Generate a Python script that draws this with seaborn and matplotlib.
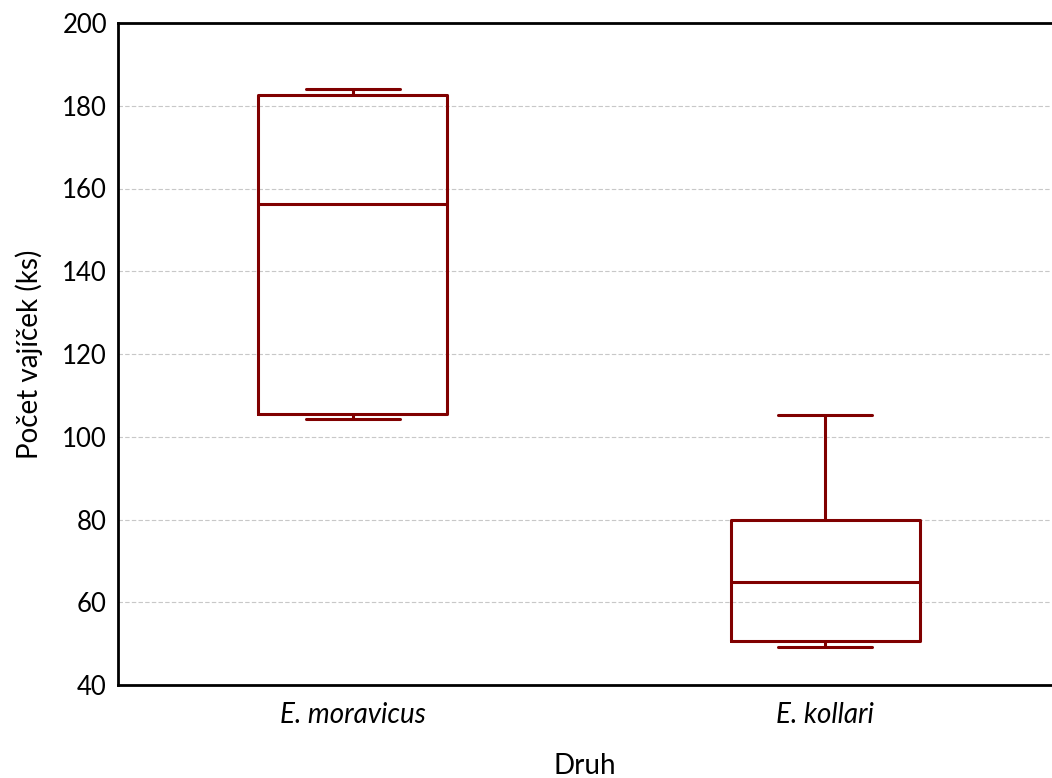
import numpy as np
import pandas as pd
import matplotlib
matplotlib.use("Agg")
import matplotlib.pyplot as plt
import seaborn as sns

species = ["E. moravicus", "E. kollari"]
moravicus_vals = [104.3, 105.5, 156.3, 182.6, 184.0]
kollari_vals = [49.2, 50.6, 64.9, 79.9, 105.3]
yticks = [40, 60, 80, 100, 120, 140, 160, 180, 200]

df = pd.DataFrame({
    "Druh": [species[0]] * len(moravicus_vals) + [species[1]] * len(kollari_vals),
    "val": moravicus_vals + kollari_vals,
})

sns.set_style("white")
plt.rcParams["font.family"] = ["Lato", "DejaVu Sans"]
plt.rcParams["text.color"] = "black"
plt.rcParams["axes.labelcolor"] = "black"
plt.rcParams["xtick.color"] = "black"
plt.rcParams["ytick.color"] = "black"

fig = plt.figure(figsize=(10.52, 7.78), dpi=100)
ax = fig.add_axes([118 / 1052, 93 / 778, (1051 - 118) / 1052, (685 - 23) / 778])

color = "#800000"
sns.boxplot(data=df, x="Druh", y="val", order=species, whis=np.inf, width=0.4,
            fill=False, color=color, linewidth=2.2, ax=ax)

ax.set_ylim(40, 200)
ax.set_xlim(-0.497, 1.478)
ax.set_yticks(yticks)
ax.yaxis.grid(True, color="#c8c8c8", linestyle=(0, (4, 2)), linewidth=0.8)
ax.set_axisbelow(True)

for s in ax.spines.values():
    s.set_color("black")
    s.set_linewidth(2)
    s.set_visible(True)
ax.spines["right"].set_visible(False)

ax.tick_params(axis="both", direction="in", length=5, width=1, colors="black")
ax.tick_params(axis="y", pad=8, labelsize=18.5)
ax.tick_params(axis="x", pad=12, labelsize=20)
for lbl in ax.get_xticklabels():
    lbl.set_style("italic")

ax.set_ylabel("Počet vajíček (ks)", fontsize=20, labelpad=14, color="black")
ax.set_xlabel("Druh", fontsize=20, labelpad=18, color="black")

fig.savefig("out.png", dpi=100)
